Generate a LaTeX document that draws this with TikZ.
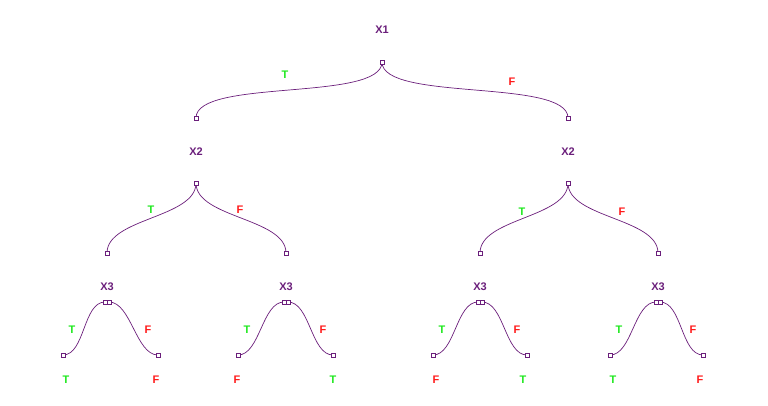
\documentclass[tikz,border=0pt]{standalone}
\usepackage{fontspec}
\setmainfont{Liberation Sans}
\definecolor{pur}{HTML}{6B1F7B}
\definecolor{gr}{HTML}{1EE81E}
\definecolor{rd}{HTML}{FF1A1A}
\begin{document}
\begin{tikzpicture}[x=1pt,y=-1pt,
 lbl/.style={font=\bfseries\fontsize{11}{12}\selectfont,text=pur,inner sep=0},
 tl/.style={font=\bfseries\fontsize{11}{12}\selectfont,text=gr,inner sep=0},
 fl/.style={font=\bfseries\fontsize{11}{12}\selectfont,text=rd,inner sep=0},
 port/.style={draw=pur,fill=white,minimum size=3.5pt,inner sep=0,line width=0.5pt},
 edge/.style={draw=pur,line width=0.7pt}]
\useasboundingbox (0,0) rectangle (768,405);
% labels
\node[lbl] (l1) at (382,30) {X1};
\node[lbl] (l2a) at (196,152) {X2};
\node[lbl] (l2b) at (568,152) {X2};
\foreach \n/\x in {a/107,b/286,c/480,d/658}{\node[lbl] (l3\n) at (\x,287) {X3};}
% edges level 1
\coordinate (p1) at (382,62);
\coordinate (c2a) at (196,118); \coordinate (c2b) at (568,118);
\draw[edge] (p1) .. controls ++(0,40) and ++(0,-40) .. (c2a);
\draw[edge] (p1) .. controls ++(0,40) and ++(0,-40) .. (c2b);
\coordinate (p2a) at (196,183); \coordinate (p2b) at (568,183);
\foreach \p/\l/\r in {p2a/107/286,p2b/480/658}{
 \coordinate (gl) at (\l,253); \coordinate (gr) at (\r,253);
 \draw[edge] (\p) .. controls ++(0,35) and ++(0,-35) .. (gl);
 \draw[edge] (\p) .. controls ++(0,35) and ++(0,-35) .. (gr);
 \node[port] at (gl) {}; \node[port] at (gr) {};
}
\foreach \x/\a/\b in {107/63/158,286/238/333,480/433/527,658/610/703}{
 \coordinate (tl) at ({\x-2},302); \coordinate (tr) at ({\x+2},302);
 \coordinate (la) at (\a,355); \coordinate (lb) at (\b,355);
 \draw[edge] (tl) .. controls ++(-22,0) and ++(22,0) .. (la);
 \draw[edge] (tr) .. controls ++(22,0) and ++(-22,0) .. (lb);
 \node[port] at (tl) {}; \node[port] at (tr) {};
 \node[port] at (la) {}; \node[port] at (lb) {};
 \node[tl] at ({\a+9},330) {T};
 \node[fl] at ({\b-10},330) {F};
}
\foreach \c in {p1,c2a,c2b,p2a,p2b}{\node[port] at (\c) {};}
% edge labels
\node[tl] (e1) at (285,75) {T};
\node[fl] (e2) at (512,82) {F};
\node[tl] (e3) at (151,210) {T};
\node[fl] (e4) at (240,210) {F};
\node[tl] (e5) at (522,212) {T};
\node[fl] (e6) at (622,212) {F};
% leaf labels
\node[tl] at (66,380) {T}; \node[fl] at (156,380) {F};
\node[fl] at (237,380) {F}; \node[tl] at (333,380) {T};
\node[fl] at (436,380) {F}; \node[tl] at (523,380) {T};
\node[tl] at (613,380) {T}; \node[fl] at (700,380) {F};
\end{tikzpicture}
\end{document}
